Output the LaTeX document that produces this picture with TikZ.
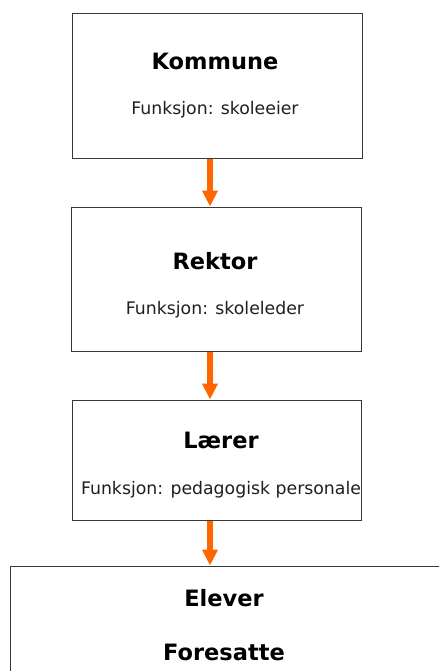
\documentclass[tikz,border=0pt]{standalone}
\usepackage{fontspec}
\setmainfont{DejaVu Sans}
\usetikzlibrary{arrows.meta}
\tikzset{
  box/.style={draw=black!78, line width=1pt, fill=white, inner sep=0pt, rectangle},
  title/.style={font=\fontsize{22.5}{26}\selectfont\bfseries, text=black, inner sep=0pt},
  body/.style={font=\fontsize{17.3}{20}\selectfont, text=black!88, inner sep=0pt},
  flow/.style={draw={rgb,255:red,255;green,102;blue,0}, line width=6pt,
    -{Triangle[width=15pt,length=16pt]}},
}
\begin{document}
\begin{tikzpicture}[x=1pt,y=-1pt]
\useasboundingbox (0,0) rectangle (439,671);
\clip (0,0) rectangle (439,671);
\fill[white] (0,0) rectangle (439,671);
% boxes of the chain
\node[box, minimum width=290pt, minimum height=145pt] (kommune) at (217,86) {};
\node[box, minimum width=290pt, minimum height=144pt] (rektor) at (216,279) {};
\node[box, minimum width=289pt, minimum height=120pt] (laerer) at (216.5,460) {};
\node[box, minimum width=440pt, minimum height=160pt] (elever) at (230,646) {};
% texts
\node[title] (t1) at (215,61) {Kommune};
\node[body] (b1) at (215,110) {Funksjon: skoleeier};
\node[title] (t2) at (215,261) {Rektor};
\node[body] (b2) at (215,310) {Funksjon: skoleleder};
\node[title] (t3) at (221,440) {Lærer};
\node[body] (b3) at (221,490) {Funksjon: pedagogisk personale};
\node[title] (t4) at (224,598) {Elever};
\node[title] (t5) at (224,652) {Foresatte};
% arrows along the spine
\coordinate (spine) at (210,0);
\draw[flow] (kommune.south -| spine) -- (rektor.north -| spine);
\draw[flow] (rektor.south -| spine) -- (laerer.north -| spine);
\draw[flow] (laerer.south -| spine) -- (elever.north -| spine);
\end{tikzpicture}
\end{document}
